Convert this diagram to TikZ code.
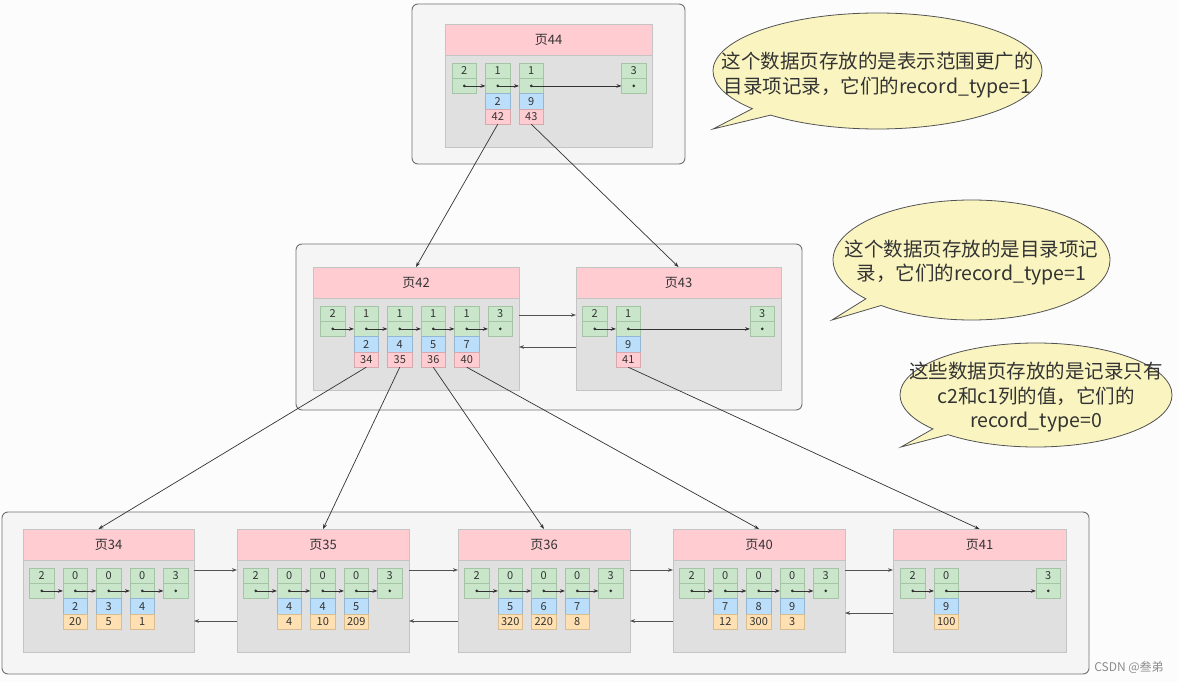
\documentclass[tikz,border=0pt]{standalone}
\usepackage{fontspec}
\setmainfont{Noto Sans CJK SC}
\usetikzlibrary{arrows.meta,positioning,shapes.callouts}

\definecolor{framefill}{HTML}{F5F5F5}
\definecolor{frameline}{HTML}{707070}
\definecolor{pagegray}{HTML}{E0E0E0}
\definecolor{pageline}{HTML}{C4C4C4}
\definecolor{headpink}{HTML}{FFCCD2}
\definecolor{tgreen}{HTML}{C9E6CB}
\definecolor{tline}{HTML}{A5C4A6}
\definecolor{kblue}{HTML}{BBDEFB}
\definecolor{kline}{HTML}{94B6D2}
\definecolor{ppink}{HTML}{FFCCD2}
\definecolor{pline}{HTML}{D6A9AE}
\definecolor{vorange}{HTML}{FFE0B2}
\definecolor{vline}{HTML}{D9BC90}
\definecolor{ink}{HTML}{333333}
\definecolor{bubblefill}{HTML}{FAF5C0}
\definecolor{paper}{HTML}{FCFCFC}

% infimum / supremum record: type + next pointer
\newcommand{\hrec}[3]{%
  \node[tcell,#2] (#1) {#3};
  \node[tcell,below=0pt of #1] (#1-n) {};
  \fill[ink] (#1-n.center) circle (1.5pt);
}
% user record: type, next pointer, key, page no. or value
\newcommand{\drec}[6]{%
  \node[tcell,#2] (#1) {#3};
  \node[tcell,below=0pt of #1] (#1-n) {};
  \node[kcell,below=0pt of #1-n] (#1-k) {#4};
  \node[#5,below=0pt of #1-k] (#1-v) {#6};
  \fill[ink] (#1-n.center) circle (1.5pt);
}

\begin{document}
\begin{tikzpicture}[x=1pt,y=-1pt,>={Stealth[length=5pt,width=3.6pt]},
    tier/.style={draw=frameline,fill=framefill,rounded corners=6pt,line width=0.9pt},
    pagebody/.style={draw=pageline,fill=pagegray,minimum width=#1,minimum height=123pt,anchor=north west,inner sep=0pt,outer sep=0pt,line width=0.8pt},
    pagehead/.style={draw=pageline,fill=headpink,minimum width=#1,minimum height=31pt,anchor=north,inner sep=0pt,outer sep=0pt,line width=0.8pt,font=\fontsize{13}{15}\selectfont,text=ink},
    cell/.style={draw=#1,minimum width=24.5pt,minimum height=15.3pt,inner sep=0pt,outer sep=0pt,line width=0.7pt,font=\fontsize{11}{12}\selectfont,text=ink},
    tcell/.style={cell=tline,fill=tgreen},
    kcell/.style={cell=kline,fill=kblue},
    pcell/.style={cell=pline,fill=ppink},
    vcell/.style={cell=vline,fill=vorange},
    nextptr/.style={->,color=ink,line width=0.7pt},
    pagelink/.style={->,color=ink!85,line width=0.7pt},
    fanout/.style={->,color=ink,line width=0.7pt},
    bubble/.style={ellipse callout,draw=ink!85,fill=bubblefill,line width=0.8pt,callout pointer arc=9},
    bubbletext/.style={align=center,font=\fontsize{19.5}{24.5}\selectfont,text=ink}]

    \fill[paper] (0,0) rectangle (1178,682);
    \useasboundingbox (0,0) rectangle (1178,682);

    % levels
    \draw[tier] (412,4) rectangle (685,164);
    \draw[tier] (296,244) rectangle (802,410);
    \draw[tier] (2,512) rectangle (1089,674);

    % root page
    \node[pagebody=207pt] (p44) at (445,24) {};
    \node[pagehead=207pt] (p44h) at (p44.north) {页44};
    \hrec{r44a}{below right=39pt and 7pt of p44.north west}{2}
    \drec{r44b}{right=9pt of r44a}{1}{2}{pcell}{42}
    \drec{r44c}{right=9pt of r44b}{1}{9}{pcell}{43}
    \hrec{r44d}{below left=39pt and 6pt of p44.north east}{3}

    % directory pages
    \node[pagebody=206pt] (p42) at (313,267) {};
    \node[pagehead=206pt] (p42h) at (p42.north) {页42};
    \hrec{r42a}{below right=39pt and 7.5pt of p42.north west}{2}
    \drec{r42b}{right=9pt of r42a}{1}{2}{pcell}{34}
    \drec{r42c}{right=9pt of r42b}{1}{4}{pcell}{35}
    \drec{r42d}{right=9pt of r42c}{1}{5}{pcell}{36}
    \drec{r42e}{right=9pt of r42d}{1}{7}{pcell}{40}
    \hrec{r42f}{right=9pt of r42e}{3}

    \node[pagebody=205pt] (p43) at (576,267) {};
    \node[pagehead=205pt] (p43h) at (p43.north) {页43};
    \hrec{r43a}{below right=39pt and 6.5pt of p43.north west}{2}
    \drec{r43b}{right=9pt of r43a}{1}{9}{pcell}{41}
    \hrec{r43c}{below left=39pt and 6.5pt of p43.north east}{3}

    % leaf pages
    \node[pagebody=171pt] (p34) at (23,529) {};
    \node[pagehead=171pt] (p34h) at (p34.north) {页34};
    \hrec{r34a}{below right=39pt and 6.5pt of p34.north west}{2}
    \drec{r34b}{right=9pt of r34a}{0}{2}{vcell}{20}
    \drec{r34c}{right=9pt of r34b}{0}{3}{vcell}{5}
    \drec{r34d}{right=9pt of r34c}{0}{4}{vcell}{1}
    \hrec{r34e}{right=9pt of r34d}{3}

    \node[pagebody=172pt] (p35) at (237,529) {};
    \node[pagehead=172pt] (p35h) at (p35.north) {页35};
    \hrec{r35a}{below right=39pt and 6.5pt of p35.north west}{2}
    \drec{r35b}{right=9pt of r35a}{0}{4}{vcell}{4}
    \drec{r35c}{right=9pt of r35b}{0}{4}{vcell}{10}
    \drec{r35d}{right=9pt of r35c}{0}{5}{vcell}{209}
    \hrec{r35e}{right=9pt of r35d}{3}

    \node[pagebody=172pt] (p36) at (458,529) {};
    \node[pagehead=172pt] (p36h) at (p36.north) {页36};
    \hrec{r36a}{below right=39pt and 6.5pt of p36.north west}{2}
    \drec{r36b}{right=9pt of r36a}{0}{5}{vcell}{320}
    \drec{r36c}{right=9pt of r36b}{0}{6}{vcell}{220}
    \drec{r36d}{right=9pt of r36c}{0}{7}{vcell}{8}
    \hrec{r36e}{right=9pt of r36d}{3}

    \node[pagebody=172pt] (p40) at (673,529) {};
    \node[pagehead=172pt] (p40h) at (p40.north) {页40};
    \hrec{r40a}{below right=39pt and 6.5pt of p40.north west}{2}
    \drec{r40b}{right=9pt of r40a}{0}{7}{vcell}{12}
    \drec{r40c}{right=9pt of r40b}{0}{8}{vcell}{300}
    \drec{r40d}{right=9pt of r40c}{0}{9}{vcell}{3}
    \hrec{r40e}{right=9pt of r40d}{3}

    \node[pagebody=173pt] (p41) at (893,529) {};
    \node[pagehead=173pt] (p41h) at (p41.north) {页41};
    \hrec{r41a}{below right=39pt and 7.5pt of p41.north west}{2}
    \drec{r41b}{right=9pt of r41a}{0}{9}{vcell}{100}
    \hrec{r41c}{below left=39pt and 5.5pt of p41.north east}{3}

    % next record pointers
    \path[nextptr] (r44a-n.center) edge (r44b-n.west) (r44b-n.center) edge (r44c-n.west) (r44c-n.center) edge (r44d-n.west);
    \path[nextptr] (r42a-n.center) edge (r42b-n.west) (r42b-n.center) edge (r42c-n.west) (r42c-n.center) edge (r42d-n.west)
                   (r42d-n.center) edge (r42e-n.west) (r42e-n.center) edge (r42f-n.west);
    \path[nextptr] (r43a-n.center) edge (r43b-n.west) (r43b-n.center) edge (r43c-n.west);
    \path[nextptr] (r34a-n.center) edge (r34b-n.west) (r34b-n.center) edge (r34c-n.west) (r34c-n.center) edge (r34d-n.west) (r34d-n.center) edge (r34e-n.west);
    \path[nextptr] (r35a-n.center) edge (r35b-n.west) (r35b-n.center) edge (r35c-n.west) (r35c-n.center) edge (r35d-n.west) (r35d-n.center) edge (r35e-n.west);
    \path[nextptr] (r36a-n.center) edge (r36b-n.west) (r36b-n.center) edge (r36c-n.west) (r36c-n.center) edge (r36d-n.west) (r36d-n.center) edge (r36e-n.west);
    \path[nextptr] (r40a-n.center) edge (r40b-n.west) (r40b-n.center) edge (r40c-n.west) (r40c-n.center) edge (r40d-n.west) (r40d-n.center) edge (r40e-n.west);
    \path[nextptr] (r41a-n.center) edge (r41b-n.west) (r41b-n.center) edge (r41c-n.west);

    % page lists
    \path[pagelink] ([yshift=-48pt]p42.north east) edge ([yshift=-48pt]p43.north west)
                    ([yshift=-80pt]p43.north west) edge ([yshift=-80pt]p42.north east);
    \path[pagelink] ([yshift=-41pt]p34.north east) edge ([yshift=-41pt]p35.north west)
                    ([yshift=-92pt]p35.north west) edge ([yshift=-92pt]p34.north east)
                    ([yshift=-41pt]p35.north east) edge ([yshift=-41pt]p36.north west)
                    ([yshift=-92pt]p36.north west) edge ([yshift=-92pt]p35.north east)
                    ([yshift=-41pt]p36.north east) edge ([yshift=-41pt]p40.north west)
                    ([yshift=-92pt]p40.north west) edge ([yshift=-92pt]p36.north east)
                    ([yshift=-41pt]p40.north east) edge ([yshift=-41pt]p41.north west)
                    ([yshift=-84pt]p41.north west) edge ([yshift=-84pt]p40.north east);

    % child pages
    \path[fanout] (r44b-v.south) edge (p42h.north) (r44c-v.south) edge (p43h.north);
    \path[fanout] (r42b-v.south) edge ([xshift=-10pt]p34h.north) (r42c-v.south) edge (p35h.north)
                  (r42d-v.south) edge (p36h.north) (r42e-v.south) edge (p40h.north)
                  (r43b-v.south) edge (p41h.north);

    % notes
    \node[bubble,minimum width=329pt,minimum height=116pt,callout absolute pointer={(713,129)},
          label={[bubbletext,yshift=-4pt]center:这个数据页存放的是表示范围更广的\\目录项记录，它们的record\_type=1}] (n44) at (877.5,71) {};
    \node[bubble,minimum width=277pt,minimum height=120pt,callout absolute pointer={(832,320)},
          label={[bubbletext,yshift=-2.5pt]center:这个数据页存放的是目录项记\\录，它们的record\_type=1}] (n42) at (971.5,260) {};
    \node[bubble,minimum width=272pt,minimum height=104pt,callout absolute pointer={(901,447)},
          label={[bubbletext,yshift=-2.5pt]center:这些数据页存放的是记录只有\\c2和c1列的值，它们的\\record\_type=0}] (n34) at (1036,395) {};

    \node[font=\fontsize{12}{14}\selectfont,text=black!45] (mark) at (1129,667) {CSDN @叁弟};
\end{tikzpicture}
\end{document}
